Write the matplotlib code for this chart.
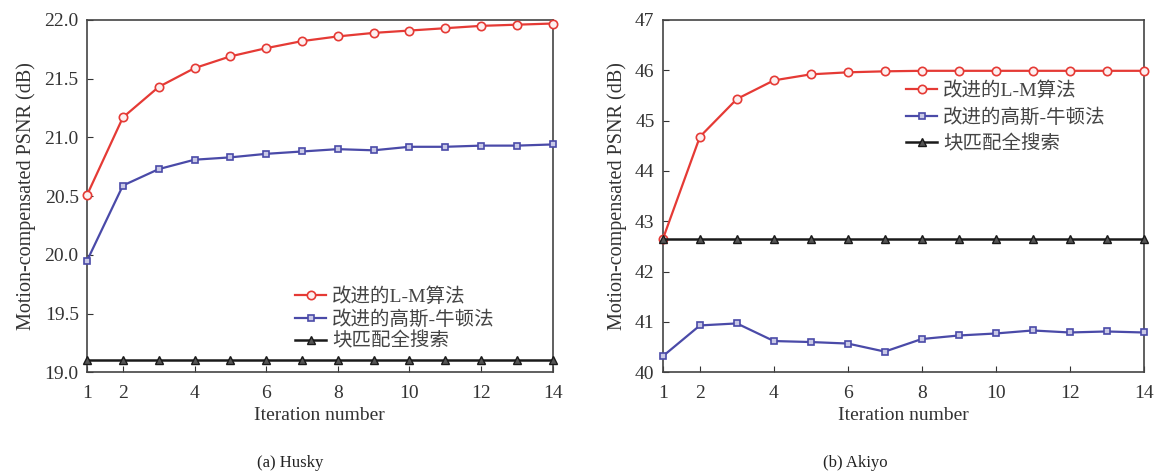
import matplotlib.pyplot as plt

# PSNR per iteration, two test sequences
iterations = list(range(1, 15))
xticks = [1, 2, 4, 6, 8, 10, 12, 14]

husky_lm = [20.51, 21.17, 21.43, 21.59, 21.69, 21.76, 21.82, 21.86, 21.89, 21.91, 21.93, 21.95, 21.96, 21.97]
husky_gn = [19.95, 20.59, 20.73, 20.81, 20.83, 20.86, 20.88, 20.90, 20.89, 20.92, 20.92, 20.93, 20.93, 20.94]
husky_bm = [19.10] * 14

akiyo_lm = [42.65, 44.68, 45.43, 45.80, 45.92, 45.96, 45.98, 45.99, 45.99, 45.99, 45.99, 45.99, 45.99, 45.99]
akiyo_gn = [40.32, 40.93, 40.97, 40.62, 40.60, 40.57, 40.41, 40.66, 40.73, 40.77, 40.83, 40.79, 40.81, 40.79]
akiyo_bm = [42.65] * 14

labels = ["改进的L-M算法", "改进的高斯-牛顿法", "块匹配全搜索"]

FAM = ["Liberation Serif", "Noto Sans CJK SC"]
plt.rcParams["font.family"] = FAM

fig = plt.figure(figsize=(11.61, 4.76), dpi=100)
ax1 = fig.add_axes([0.075, 0.218, 0.401, 0.740])
ax2 = fig.add_axes([0.571, 0.218, 0.414, 0.740])


def draw(ax, lm, gn, bm, ylim, yticks, yfmt, legend_loc, spacing):
    ax.plot(iterations, lm, color="#e53a35", lw=1.6, marker="o", ms=6,
            mfc="#fdf0f0", mec="#e53a35", mew=1.2, label=labels[0], clip_on=False, zorder=3)
    ax.plot(iterations, gn, color="#4a4aa8", lw=1.6, marker="s", ms=5,
            mfc="#c9c9e6", mec="#4a4aa8", mew=1.2, label=labels[1], clip_on=False, zorder=3)
    ax.plot(iterations, bm, color="#1a1a1a", lw=1.8, marker="^", ms=6,
            mfc="#555555", mec="#1a1a1a", mew=1.0, label=labels[2], clip_on=False, zorder=3)
    ax.set_xlim(1, 14)
    ax.set_ylim(*ylim)
    ax.set_xticks(xticks)
    ax.set_yticks(yticks)
    ax.set_yticklabels([yfmt.format(v) for v in yticks])
    ax.tick_params(direction="in", length=4, labelsize=14, colors="#333333")
    ax.tick_params(axis="x", pad=9)
    ax.tick_params(axis="y", pad=6)
    for s in ax.spines.values():
        s.set_color("#444444")
        s.set_linewidth(1.2)
    ax.set_xlabel("Iteration number", fontsize=14, color="#333333", labelpad=4)
    ax.set_ylabel("Motion-compensated PSNR (dB)", fontsize=14.5, color="#333333", labelpad=6)
    leg = ax.legend(loc=legend_loc, frameon=False, fontsize=14, handlelength=1.6,
                    handletextpad=0.3, labelspacing=spacing, borderaxespad=0.2)
    for t in leg.get_texts():
        t.set_color("#444444")


draw(ax1, husky_lm, husky_gn, husky_bm, (19.0, 22.0),
     [19.0, 19.5, 20.0, 20.5, 21.0, 21.5, 22.0], "{:.1f}", (0.43, 0.04), 0.18)
draw(ax2, akiyo_lm, akiyo_gn, akiyo_bm, (40, 47),
     [40, 41, 42, 43, 44, 45, 46, 47], "{:.0f}", (0.49, 0.60), 0.42)

fig.text(0.250, 0.018, "(a) Husky", ha="center", fontsize=12, color="#222222")
fig.text(0.737, 0.018, "(b) Akiyo", ha="center", fontsize=12, color="#222222")

fig.savefig("out.png", dpi=100)
